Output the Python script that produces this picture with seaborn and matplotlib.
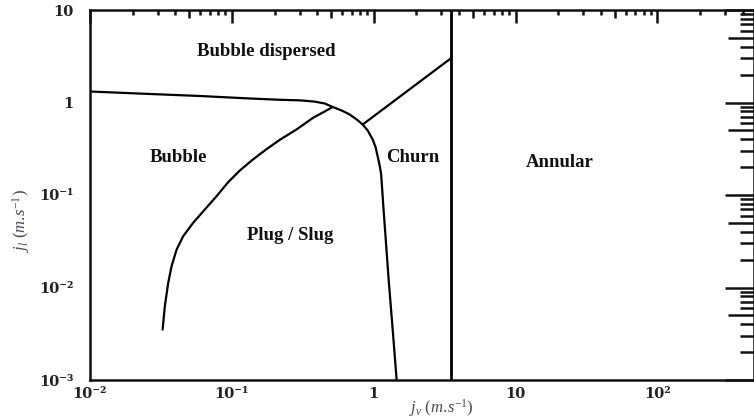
import pandas as pd
import numpy as np
import seaborn as sns
import matplotlib.pyplot as plt
from matplotlib.ticker import FixedLocator, NullFormatter

# boundary curves of the flow regime map
upper_x = [0.01, 0.02645, 0.0595, 0.1339, 0.2178, 0.3012, 0.3842, 0.4518, 0.5144, 0.5952,
           0.6776, 0.759, 0.8366, 0.9073, 0.9839, 1.033, 1.067, 1.102, 1.129, 1.148,
           1.167, 1.275, 1.361, 1.452]
upper_y = [1.315, 1.236, 1.176, 1.105, 1.070, 1.055, 1.022, 0.9754, 0.894, 0.8194,
           0.7417, 0.6551, 0.5782, 0.4981, 0.3981, 0.3263, 0.2607, 0.2084, 0.1667, 0.1147,
           0.0789, 0.01221, 0.003514, 0.001]

bubble_x = [0.0325, 0.0337, 0.0356, 0.0376, 0.0408, 0.0454, 0.0534, 0.0645, 0.0780,
            0.0942, 0.1138, 0.1413, 0.1756, 0.2178, 0.2855, 0.3738, 0.5036]
bubble_y = [0.00351, 0.00628, 0.01124, 0.0170, 0.02575, 0.0359, 0.0501, 0.0697, 0.0970,
            0.1375, 0.184, 0.243, 0.313, 0.395, 0.5106, 0.6833, 0.8765]

churn_x = [0.8366, 3.49]
churn_y = [0.5782, 2.99]

annular_x = [3.49, 3.49]
annular_y = [0.001, 10]

regions = ['Bubble dispersed', 'Bubble', 'Plug / Slug', 'Churn', 'Annular']
region_x = [0.176, 0.0417, 0.256, 1.88, 20.5]
region_y = [3.56, 0.254, 0.0365, 0.254, 0.225]

xticks = [1e-2, 1e-1, 1, 10, 100]
xticklabels = ['10⁻²', '10⁻¹', '1', '10', '10²']
yticks = [1e-3, 1e-2, 1e-1, 1, 10]
yticklabels = ['10⁻³', '10⁻²', '10⁻¹', '1', '10']

SERIF = ['Liberation Serif', 'DejaVu Serif']
TICKFONT = ['DejaVu Serif']


def build_frame():
    parts = []
    for name, xs, ys in [('upper', upper_x, upper_y), ('bubble', bubble_x, bubble_y),
                         ('churn', churn_x, churn_y)]:
        parts.append(pd.DataFrame({'jv': xs, 'jl': ys, 'curve': name}))
    return pd.concat(parts, ignore_index=True)


def style_minor(axis, fives, short_len, five_len):
    # ticks at 5 x 10^n are a bit longer on the original
    for tick in axis.get_minor_ticks():
        loc = tick.get_loc()
        big = any(np.isclose(loc, f) for f in fives)
        L = five_len if big else short_len
        tick.tick1line.set_markersize(L)
        tick.tick2line.set_markersize(L)


def main():
    sns.set_theme(style='white')
    plt.rcParams['font.family'] = SERIF
    plt.rcParams['mathtext.fontset'] = 'custom'
    plt.rcParams['mathtext.rm'] = 'Liberation Serif'
    plt.rcParams['mathtext.it'] = 'Liberation Serif:italic'

    fig = plt.figure(figsize=(7.54, 4.2), dpi=100)
    ax = fig.add_axes([90 / 754, 40 / 420, 664 / 754, 370 / 420])
    ax.set_xscale('log')
    ax.set_yscale('log')

    df = build_frame()
    sns.lineplot(data=df, x='jv', y='jl', units='curve', estimator=None, sort=False,
                 color='black', linewidth=1.6, ax=ax, legend=False)
    sns.lineplot(x=annular_x, y=annular_y, estimator=None, sort=False,
                 color='black', linewidth=2.0, ax=ax, legend=False)

    for name, x, y in zip(regions, region_x, region_y):
        ax.text(x, y, name, ha='center', va='center', fontsize=13.5,
                fontweight='bold', family=SERIF, color='#111111')

    ax.set_xlim(1e-2, 480)
    ax.set_ylim(1e-3, 10)

    ax.xaxis.set_major_locator(FixedLocator(xticks))
    ax.set_xticklabels(xticklabels)
    ax.yaxis.set_major_locator(FixedLocator(yticks))
    ax.set_yticklabels(yticklabels)

    xminor = [m * 10.0 ** e for e in range(-2, 3) for m in range(2, 10)]
    yminor = [m * 10.0 ** e for e in range(-3, 1) for m in range(2, 10)]
    ax.xaxis.set_minor_locator(FixedLocator(xminor))
    ax.yaxis.set_minor_locator(FixedLocator(yminor))
    ax.xaxis.set_minor_formatter(NullFormatter())
    ax.yaxis.set_minor_formatter(NullFormatter())

    ax.tick_params(axis='both', which='both', direction='in', top=True, right=True,
                   color='#111111', width=1.8)
    ax.tick_params(axis='x', which='major', length=9.5, pad=5)
    ax.tick_params(axis='y', which='major', length=21, pad=12)
    ax.tick_params(axis='x', which='minor', length=3)
    ax.tick_params(axis='y', which='minor', length=10)

    for lab in ax.get_xticklabels() + ax.get_yticklabels():
        lab.set_family(TICKFONT)
        lab.set_fontweight('bold')
        lab.set_fontsize(10.5)
        lab.set_color('#222222')

    style_minor(ax.xaxis, [5 * 10.0 ** e for e in range(-2, 3)], 3.5, 6)
    style_minor(ax.yaxis, [5 * 10.0 ** e for e in range(-3, 1)], 10, 19)

    for sp in ax.spines.values():
        sp.set_linewidth(1.8)
        sp.set_color('#111111')

    ax.set_xlabel(r'$j_v\ (m.\!s^{-1})$', fontsize=12, color='#4a4a5a')
    ax.set_ylabel(r'$j_l\ (m.\!s^{-1})$', fontsize=12, color='#4a4a5a')
    ax.xaxis.set_label_coords(0.529, -0.046)
    ax.yaxis.set_label_coords(-0.088, 0.43)

    fig.savefig('out.png', dpi=100)
    plt.close(fig)


if __name__ == '__main__':
    main()
